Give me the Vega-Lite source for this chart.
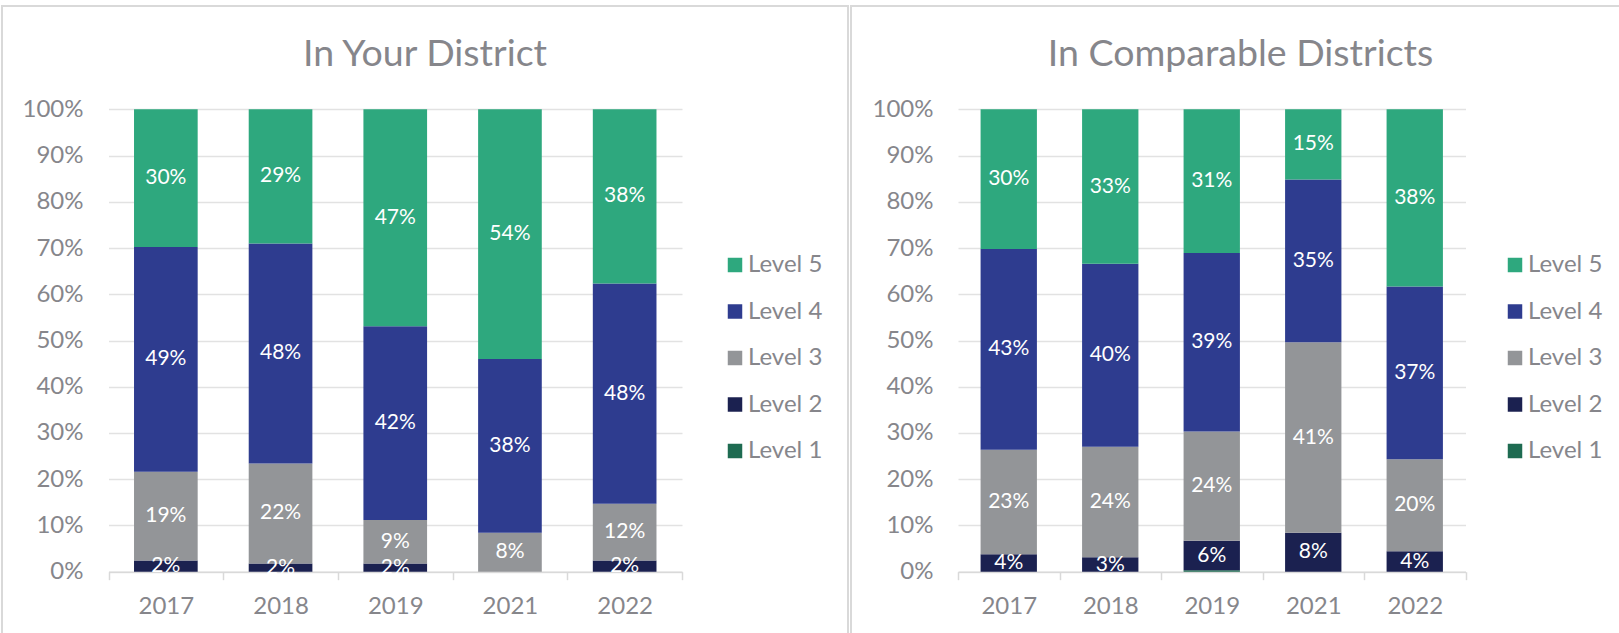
{
  "$schema": "https://vega.github.io/schema/vega-lite/v6.json",
  "padding": {"left": 1, "top": 5, "right": 0, "bottom": 0},
  "background": "white",
  "spacing": 1,
  "datasets": {
    "levels": [
      {"g": "Your", "year": "2017", "level": "Level 1", "lvl": 1, "pct": 0},
      {"g": "Your", "year": "2017", "level": "Level 2", "lvl": 2, "pct": 0.024},
      {"g": "Your", "year": "2017", "level": "Level 3", "lvl": 3, "pct": 0.192},
      {"g": "Your", "year": "2017", "level": "Level 4", "lvl": 4, "pct": 0.486},
      {"g": "Your", "year": "2017", "level": "Level 5", "lvl": 5, "pct": 0.298},
      {"g": "Your", "year": "2018", "level": "Level 1", "lvl": 1, "pct": 0},
      {"g": "Your", "year": "2018", "level": "Level 2", "lvl": 2, "pct": 0.018},
      {"g": "Your", "year": "2018", "level": "Level 3", "lvl": 3, "pct": 0.216},
      {"g": "Your", "year": "2018", "level": "Level 4", "lvl": 4, "pct": 0.476},
      {"g": "Your", "year": "2018", "level": "Level 5", "lvl": 5, "pct": 0.29},
      {"g": "Your", "year": "2019", "level": "Level 1", "lvl": 1, "pct": 0},
      {"g": "Your", "year": "2019", "level": "Level 2", "lvl": 2, "pct": 0.018},
      {"g": "Your", "year": "2019", "level": "Level 3", "lvl": 3, "pct": 0.094},
      {"g": "Your", "year": "2019", "level": "Level 4", "lvl": 4, "pct": 0.419},
      {"g": "Your", "year": "2019", "level": "Level 5", "lvl": 5, "pct": 0.469},
      {"g": "Your", "year": "2021", "level": "Level 1", "lvl": 1, "pct": 0},
      {"g": "Your", "year": "2021", "level": "Level 2", "lvl": 2, "pct": 0},
      {"g": "Your", "year": "2021", "level": "Level 3", "lvl": 3, "pct": 0.084},
      {"g": "Your", "year": "2021", "level": "Level 4", "lvl": 4, "pct": 0.376},
      {"g": "Your", "year": "2021", "level": "Level 5", "lvl": 5, "pct": 0.54},
      {"g": "Your", "year": "2022", "level": "Level 1", "lvl": 1, "pct": 0},
      {"g": "Your", "year": "2022", "level": "Level 2", "lvl": 2, "pct": 0.024},
      {"g": "Your", "year": "2022", "level": "Level 3", "lvl": 3, "pct": 0.123},
      {"g": "Your", "year": "2022", "level": "Level 4", "lvl": 4, "pct": 0.476},
      {"g": "Your", "year": "2022", "level": "Level 5", "lvl": 5, "pct": 0.377},
      {"g": "Comp", "year": "2017", "level": "Level 1", "lvl": 1, "pct": 0},
      {"g": "Comp", "year": "2017", "level": "Level 2", "lvl": 2, "pct": 0.038},
      {"g": "Comp", "year": "2017", "level": "Level 3", "lvl": 3, "pct": 0.226},
      {"g": "Comp", "year": "2017", "level": "Level 4", "lvl": 4, "pct": 0.434},
      {"g": "Comp", "year": "2017", "level": "Level 5", "lvl": 5, "pct": 0.302},
      {"g": "Comp", "year": "2018", "level": "Level 1", "lvl": 1, "pct": 0},
      {"g": "Comp", "year": "2018", "level": "Level 2", "lvl": 2, "pct": 0.031},
      {"g": "Comp", "year": "2018", "level": "Level 3", "lvl": 3, "pct": 0.239},
      {"g": "Comp", "year": "2018", "level": "Level 4", "lvl": 4, "pct": 0.396},
      {"g": "Comp", "year": "2018", "level": "Level 5", "lvl": 5, "pct": 0.334},
      {"g": "Comp", "year": "2019", "level": "Level 1", "lvl": 1, "pct": 0.003},
      {"g": "Comp", "year": "2019", "level": "Level 2", "lvl": 2, "pct": 0.064},
      {"g": "Comp", "year": "2019", "level": "Level 3", "lvl": 3, "pct": 0.236},
      {"g": "Comp", "year": "2019", "level": "Level 4", "lvl": 4, "pct": 0.386},
      {"g": "Comp", "year": "2019", "level": "Level 5", "lvl": 5, "pct": 0.311},
      {"g": "Comp", "year": "2021", "level": "Level 1", "lvl": 1, "pct": 0},
      {"g": "Comp", "year": "2021", "level": "Level 2", "lvl": 2, "pct": 0.084},
      {"g": "Comp", "year": "2021", "level": "Level 3", "lvl": 3, "pct": 0.412},
      {"g": "Comp", "year": "2021", "level": "Level 4", "lvl": 4, "pct": 0.352},
      {"g": "Comp", "year": "2021", "level": "Level 5", "lvl": 5, "pct": 0.152},
      {"g": "Comp", "year": "2022", "level": "Level 1", "lvl": 1, "pct": 0},
      {"g": "Comp", "year": "2022", "level": "Level 2", "lvl": 2, "pct": 0.044},
      {"g": "Comp", "year": "2022", "level": "Level 3", "lvl": 3, "pct": 0.199},
      {"g": "Comp", "year": "2022", "level": "Level 4", "lvl": 4, "pct": 0.374},
      {"g": "Comp", "year": "2022", "level": "Level 5", "lvl": 5, "pct": 0.383}
    ]
  },
  "hconcat": [
    {
      "data": {"name": "levels"},
      "transform": [{"filter": "datum.g === 'Your'"}],
      "width": 846,
      "height": 628,
      "title": {"text": "In Your District", "frame": "group", "anchor": "middle", "orient": "top", "baseline": "alphabetic", "offset": -97.5},
      "layer": [
        {
          "mark": {"type": "bar", "width": {"band": 0.555}},
          "encoding": {
            "x": {"field": "year", "type": "nominal",
              "scale": {"domain": ["2017", "2018", "2019", "2021", "2022"], "range": [106.5, 680], "paddingInner": 0, "paddingOuter": 0},
              "axis": {"title": null, "offset": -62.3, "labelAngle": 0, "tickBand": "extent", "grid": false}},
            "y": {"field": "pct", "type": "quantitative", "stack": "zero",
              "scale": {"domain": [0, 1], "range": [565.7, 103.3], "nice": false, "zero": true},
              "axis": {"title": null, "offset": -106.5, "labelPadding": 25.5, "values": [0, 0.1, 0.2, 0.3, 0.4, 0.5, 0.6, 0.7, 0.8, 0.9, 1], "format": ".0%"}},
            "color": {"field": "level", "type": "nominal",
              "scale": {"domain": ["Level 5", "Level 4", "Level 3", "Level 2", "Level 1"], "range": ["#2ea87e", "#2e3c8f", "#939598", "#1b2150", "#1e6b51"]},
              "legend": {"orient": "none", "legendX": 721, "legendY": 247}},
            "order": {"field": "lvl", "type": "quantitative", "sort": "ascending"}
          }
        },
        {
          "transform": [
            {"stack": "pct", "groupby": ["year"], "sort": [{"field": "lvl", "order": "ascending"}], "as": ["v0", "v1"]},
            {"fold": ["v0", "v1"], "as": ["k", "v"]},
            {"aggregate": [{"op": "mean", "field": "v", "as": "mid"}], "groupby": ["year", "level", "pct"]},
            {"filter": "datum.pct >= 0.01"}
          ],
          "mark": {"type": "text", "color": "white", "fontSize": 21, "baseline": "middle", "align": "center"},
          "encoding": {
            "x": {"field": "year", "type": "nominal",
              "axis": {"title": null, "offset": -62.3, "labelAngle": 0, "tickBand": "extent", "grid": false}},
            "y": {"field": "mid", "type": "quantitative",
              "axis": {"title": null, "offset": -106.5, "labelPadding": 25.5, "values": [0, 0.1, 0.2, 0.3, 0.4, 0.5, 0.6, 0.7, 0.8, 0.9, 1], "format": ".0%"}},
            "text": {"field": "pct", "type": "quantitative", "format": ".0%"}
          }
        }
      ]
    },
    {
      "data": {"name": "levels"},
      "transform": [{"filter": "datum.g === 'Comp'"}],
      "width": 771,
      "height": 628,
      "title": {"text": "In Comparable Districts", "frame": "group", "anchor": "middle", "orient": "top", "baseline": "alphabetic", "offset": -97.5, "dx": 4},
      "layer": [
        {
          "mark": {"type": "bar", "width": {"band": 0.555}},
          "encoding": {
            "x": {"field": "year", "type": "nominal",
              "scale": {"domain": ["2017", "2018", "2019", "2021", "2022"], "range": [107, 614.5], "paddingInner": 0, "paddingOuter": 0},
              "axis": {"title": null, "offset": -62.3, "labelAngle": 0, "tickBand": "extent", "grid": false}},
            "y": {"field": "pct", "type": "quantitative", "stack": "zero",
              "scale": {"domain": [0, 1], "range": [565.7, 103.3], "nice": false, "zero": true},
              "axis": {"title": null, "offset": -107, "labelPadding": 25, "values": [0, 0.1, 0.2, 0.3, 0.4, 0.5, 0.6, 0.7, 0.8, 0.9, 1], "format": ".0%"}},
            "color": {"field": "level", "type": "nominal",
              "scale": {"domain": ["Level 5", "Level 4", "Level 3", "Level 2", "Level 1"], "range": ["#2ea87e", "#2e3c8f", "#939598", "#1b2150", "#1e6b51"]},
              "legend": {"orient": "none", "legendX": 652, "legendY": 247}},
            "order": {"field": "lvl", "type": "quantitative", "sort": "ascending"}
          }
        },
        {
          "transform": [
            {"stack": "pct", "groupby": ["year"], "sort": [{"field": "lvl", "order": "ascending"}], "as": ["v0", "v1"]},
            {"fold": ["v0", "v1"], "as": ["k", "v"]},
            {"aggregate": [{"op": "mean", "field": "v", "as": "mid"}], "groupby": ["year", "level", "pct"]},
            {"filter": "datum.pct >= 0.01"}
          ],
          "mark": {"type": "text", "color": "white", "fontSize": 21, "baseline": "middle", "align": "center"},
          "encoding": {
            "x": {"field": "year", "type": "nominal",
              "axis": {"title": null, "offset": -62.3, "labelAngle": 0, "tickBand": "extent", "grid": false}},
            "y": {"field": "mid", "type": "quantitative",
              "axis": {"title": null, "offset": -107, "labelPadding": 25, "values": [0, 0.1, 0.2, 0.3, 0.4, 0.5, 0.6, 0.7, 0.8, 0.9, 1], "format": ".0%"}},
            "text": {"field": "pct", "type": "quantitative", "format": ".0%"}
          }
        }
      ]
    }
  ],
  "resolve": {"scale": {"color": "independent", "x": "independent", "y": "independent"}, "legend": {"color": "independent"}},
  "config": {
    "font": "Lato",
    "view": {"stroke": "#d9d9d9", "strokeWidth": 2},
    "title": {"font": "Lato", "fontSize": 37.5, "fontWeight": "normal", "color": "#86868b"},
    "axis": {"labelFont": "Lato", "labelFontSize": 24, "labelColor": "#86868b"},
    "axisX": {"domainColor": "#d9d9d9", "domainWidth": 1.5, "tickColor": "#d9d9d9", "tickWidth": 1.5, "tickSize": 8, "labelPadding": 33.6, "labelBaseline": "alphabetic"},
    "axisY": {"domain": false, "ticks": false, "grid": true, "gridColor": "#e2e2e2", "gridWidth": 1.5},
    "legend": {"title": null, "symbolType": "square", "symbolSize": 210, "symbolStrokeWidth": 0, "labelFont": "Lato", "labelFontSize": 24, "labelColor": "#86868b", "rowPadding": 22.5, "labelOffset": 1, "padding": 0, "symbolOpacity": 1}
  }
}
